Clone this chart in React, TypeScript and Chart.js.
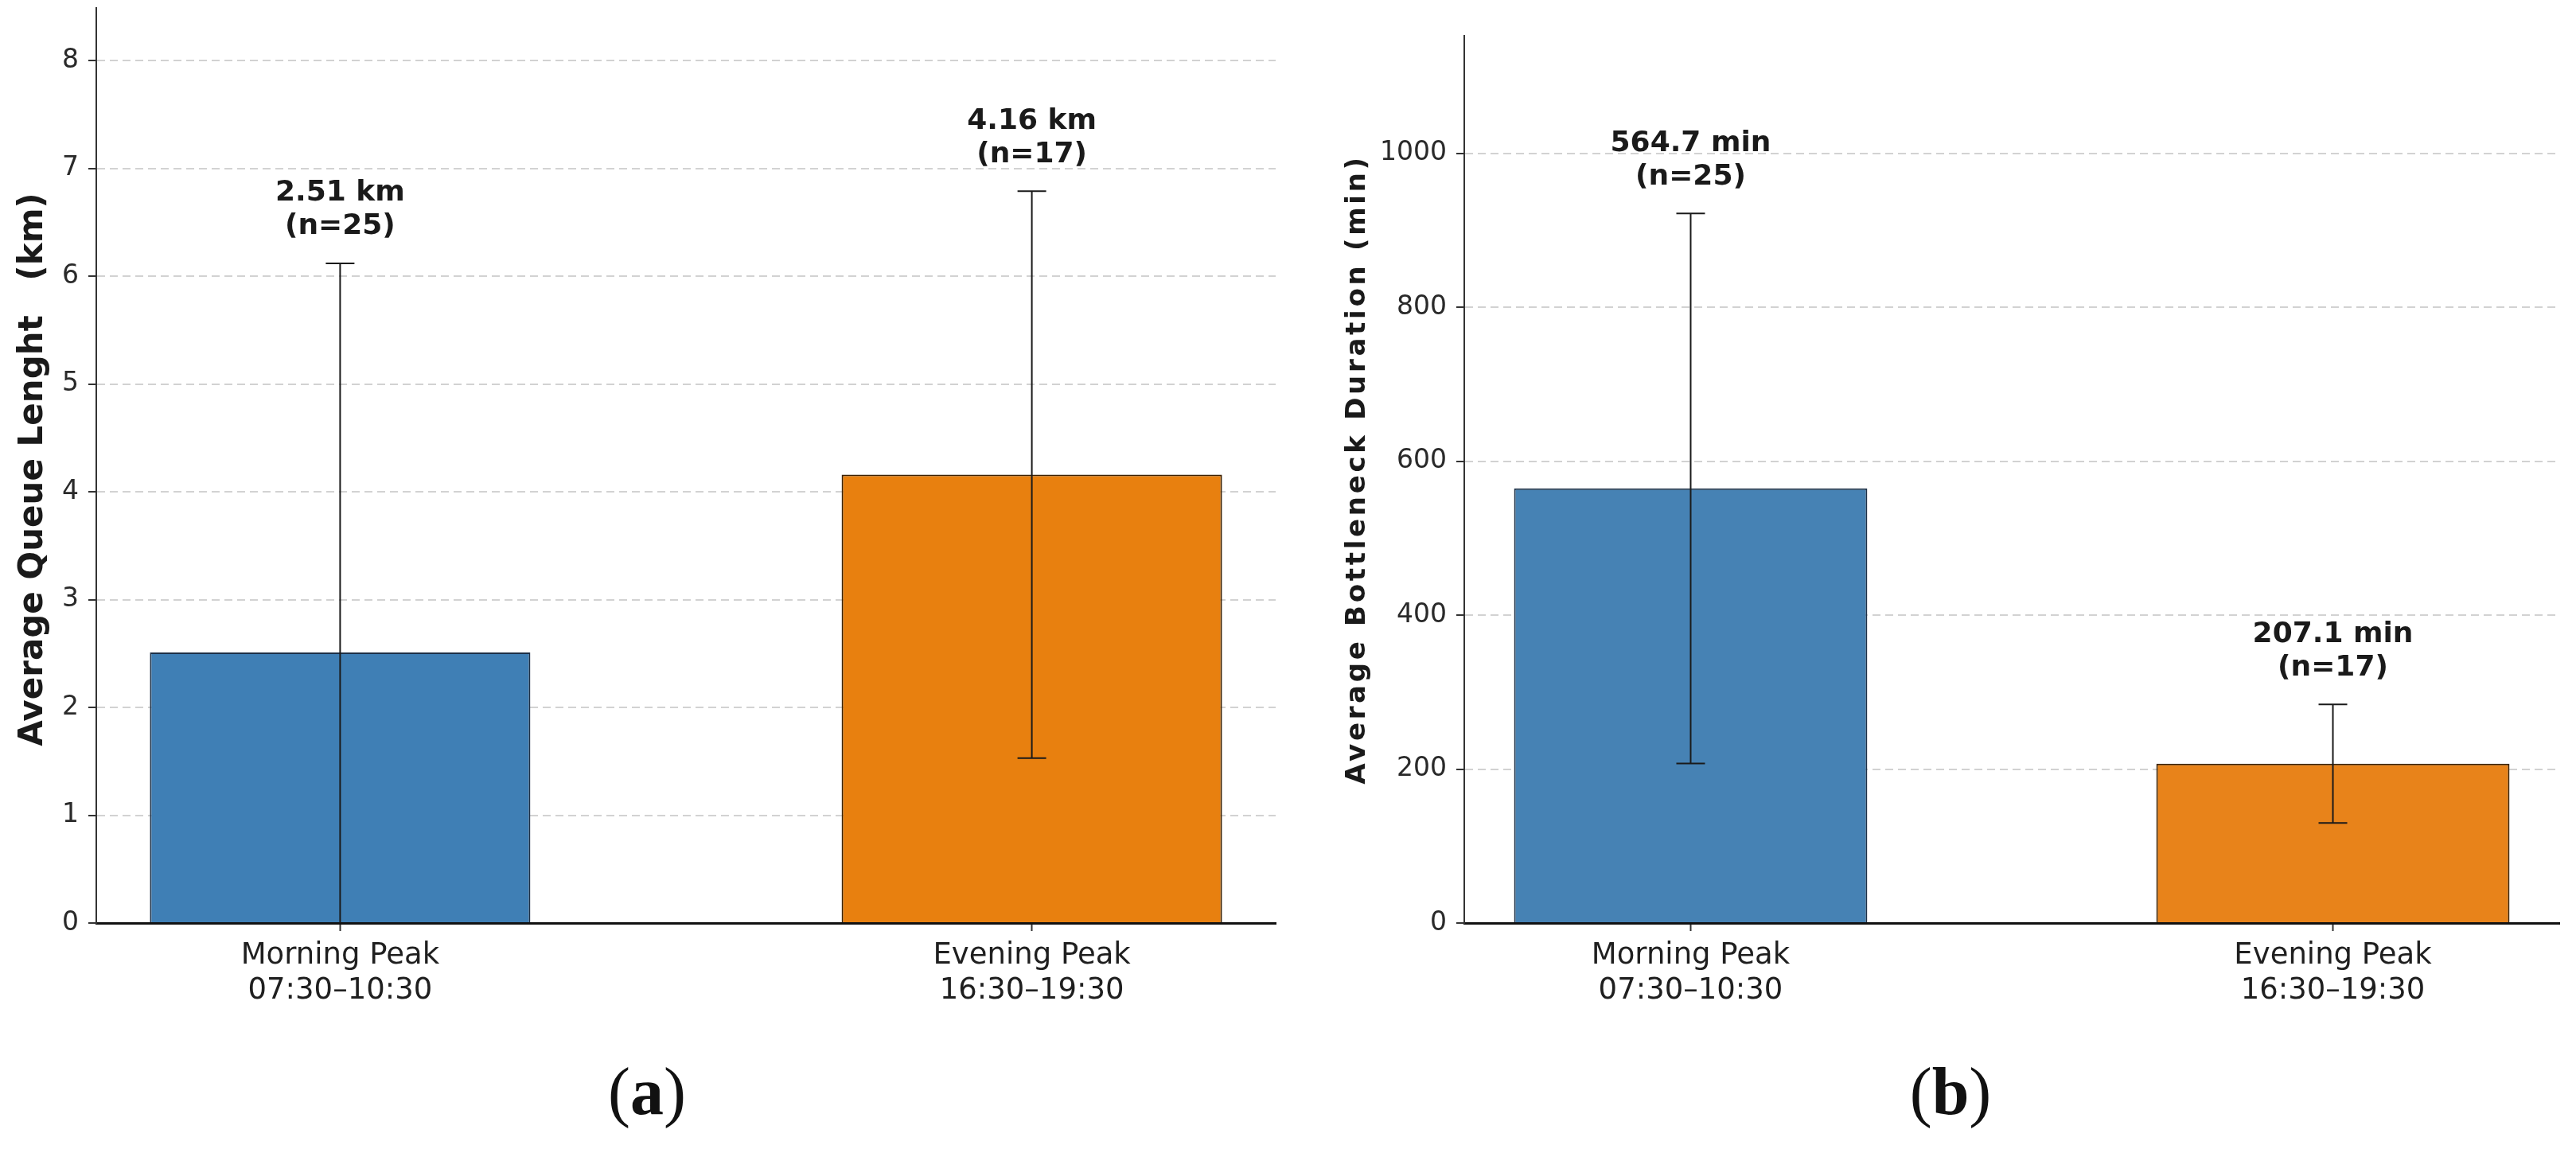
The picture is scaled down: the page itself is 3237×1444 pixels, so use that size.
import React, { useEffect, useRef } from "react";
import { Chart, registerables } from "chart.js";

Chart.register(...registerables);

// data
const categories = [
  ["Morning Peak", "07:30–10:30"],
  ["Evening Peak", "16:30–19:30"],
];
const queueMeans = [2.51, 4.16];
const queueSd = [3.61, 2.63];
const queueN = [25, 17];
const queueTicks = [0, 1, 2, 3, 4, 5, 6, 7, 8];

const durationMeans = [564.7, 207.1];
const durationSd = [357.3, 77.0];
const durationN = [25, 17];
const durationTicks = [0, 200, 400, 600, 800, 1000];

const FONT = "'DejaVu Sans', sans-serif";

type PanelProps = {
  means: number[];
  sds: number[];
  ns: number[];
  unit: string;
  decimals: number;
  yMax: number;
  yTicks: number[];
  title: string;
  titleSize: number;
  titleSpacing: number;
  titleX: number;
  titleY: number;
  colors: string[];
  edges: string[];
  yWidth: number;
  padTop: number;
  padRight: number;
  left: number;
  width: number;
};

function makeErrorPlugin(p: PanelProps) {
  return {
    id: "errorBars",
    afterDatasetsDraw(chart: any) {
      const { ctx } = chart;
      const x = chart.scales.x;
      const y = chart.scales.y;
      ctx.save();
      ctx.strokeStyle = "#1a1a1a";
      ctx.lineWidth = 2;
      p.means.forEach((m, i) => {
        const px = x.getPixelForValue(i);
        const hi = m + p.sds[i];
        const lo = m - p.sds[i];
        const top = y.getPixelForValue(hi);
        const bottom = y.getPixelForValue(Math.max(lo, y.min));
        ctx.beginPath();
        ctx.moveTo(px, top);
        ctx.lineTo(px, bottom);
        ctx.moveTo(px - 18, top);
        ctx.lineTo(px + 18, top);
        if (lo >= y.min) {
          ctx.moveTo(px - 18, bottom);
          ctx.lineTo(px + 18, bottom);
        }
        ctx.stroke();

        ctx.fillStyle = "#1a1a1a";
        ctx.font = `bold 36px ${FONT}`;
        ctx.textAlign = "center";
        ctx.textBaseline = "middle";
        ctx.fillText(`${m.toFixed(p.decimals)} ${p.unit}`, px, top - 88);
        ctx.fillText(`(n=${p.ns[i]})`, px, top - 46);
      });
      ctx.restore();
    },
    afterDraw(chart: any) {
      const { ctx } = chart;
      ctx.save();
      ctx.translate(p.titleX, p.titleY);
      ctx.rotate(-Math.PI / 2);
      ctx.fillStyle = "#1a1a1a";
      ctx.font = `bold ${p.titleSize}px ${FONT}`;
      (ctx as any).letterSpacing = `${p.titleSpacing}px`;
      ctx.textAlign = "center";
      ctx.textBaseline = "middle";
      ctx.fillText(p.title, 0, 0);
      ctx.restore();
    },
  };
}

function Panel(p: PanelProps) {
  const canvasRef = useRef<HTMLCanvasElement>(null);

  useEffect(() => {
    let chart: Chart | null = null;
    if (canvasRef.current) {
      // @ts-ignore
      chart = new Chart(canvasRef.current, {
        type: "bar",
        data: {
          datasets: [
            {
              data: p.means.map((m, i) => ({ x: i, y: m })),
              backgroundColor: p.colors,
              borderColor: p.edges,
              borderWidth: 2,
              categoryPercentage: 1.0,
              barPercentage: 0.55,
            },
          ],
        },
        options: {
          animation: false,
          responsive: true,
          maintainAspectRatio: false,
          layout: { padding: { top: p.padTop, right: p.padRight, left: 0, bottom: 0 } },
          plugins: {
            legend: { display: false },
            tooltip: { enabled: false },
          },
          scales: {
            x: {
              type: "linear",
              min: -0.3525,
              max: 1.3525,
              offset: false,
              afterBuildTicks: (s: any) => {
                s.ticks = categories.map((_, i) => ({ value: i }));
              },
              afterFit: (s: any) => {
                s.height = 140;
                s.paddingLeft = 0;
                s.paddingRight = 0;
              },
              ticks: {
                autoSkip: false,
                maxRotation: 0,
                padding: 10,
                color: "#1f1f1f",
                font: { family: FONT, size: 37, lineHeight: 1.17 },
                callback: (v: any) => categories[Math.round(v)],
              },
              grid: {
                offset: false,
                drawOnChartArea: false,
                drawTicks: true,
                tickLength: 10,
                tickColor: "#333",
                tickWidth: 2,
              },
              border: { color: "#111", width: 3 },
            },
            y: {
              min: 0,
              max: p.yMax,
              afterBuildTicks: (s: any) => {
                s.ticks = p.yTicks.map((v) => ({ value: v }));
              },
              afterFit: (s: any) => {
                s.width = p.yWidth;
                s.paddingTop = 0;
                s.paddingBottom = 0;
              },
              ticks: {
                padding: 12,
                color: "#2a2a2a",
                font: { family: FONT, size: 33 },
                callback: (v: any) => String(v),
              },
              grid: {
                color: "#d2d2d2",
                lineWidth: 2,
                drawTicks: true,
                tickLength: 10,
                tickColor: "#333",
                tickWidth: 2,
                tickBorderDash: [],
              },
              border: { color: "#333", width: 2, dash: [10, 6] },
            },
          },
        },
        plugins: [makeErrorPlugin(p)],
      });
    }
    return () => {
      if (chart) chart.destroy();
    };
  }, []);

  return (
    <div
      style={{
        position: "absolute",
        left: p.left,
        top: 0,
        width: p.width,
        height: 1300,
      }}
    >
      <canvas ref={canvasRef} />
    </div>
  );
}

function PanelLetter({ letter, x }: { letter: string; x: number }) {
  return (
    <div
      style={{
        position: "absolute",
        left: x,
        top: 1372,
        transform: "translate(-50%, -50%)",
        fontFamily: "'Liberation Serif', serif",
        fontSize: 84,
        lineHeight: 1,
        color: "#111",
        whiteSpace: "nowrap",
      }}
    >
      (<b>{letter}</b>)
    </div>
  );
}

export default function App() {
  return (
    <div
      style={{
        position: "absolute",
        left: 0,
        top: 0,
        width: 3237,
        height: 1444,
        background: "#fff",
        overflow: "hidden",
      }}
    >
      <Panel
        means={queueMeans}
        sds={queueSd}
        ns={queueN}
        unit="km"
        decimals={2}
        yMax={8.49}
        yTicks={queueTicks}
        title="Average Queue Lenght   (km)"
        titleSize={42}
        titleSpacing={0}
        titleX={42}
        titleY={590}
        colors={["#3f7fb5", "#e8800f"]}
        edges={["#1d3047", "#3b2103"]}
        yWidth={121}
        padTop={10}
        padRight={37}
        left={0}
        width={1640}
      />
      <Panel
        means={durationMeans}
        sds={durationSd}
        ns={durationN}
        unit="min"
        decimals={1}
        yMax={1152.7}
        yTicks={durationTicks}
        title="Average Bottleneck Duration (min)"
        titleSize={34}
        titleSpacing={3.7}
        titleX={66}
        titleY={590}
        colors={["#4682b4", "#e8831a"]}
        edges={["#1d3047", "#3b2103"]}
        yWidth={200}
        padTop={45}
        padRight={21}
        left={1640}
        width={1597}
      />
      <PanelLetter letter="a" x={813} />
      <PanelLetter letter="b" x={2451} />
    </div>
  );
}
